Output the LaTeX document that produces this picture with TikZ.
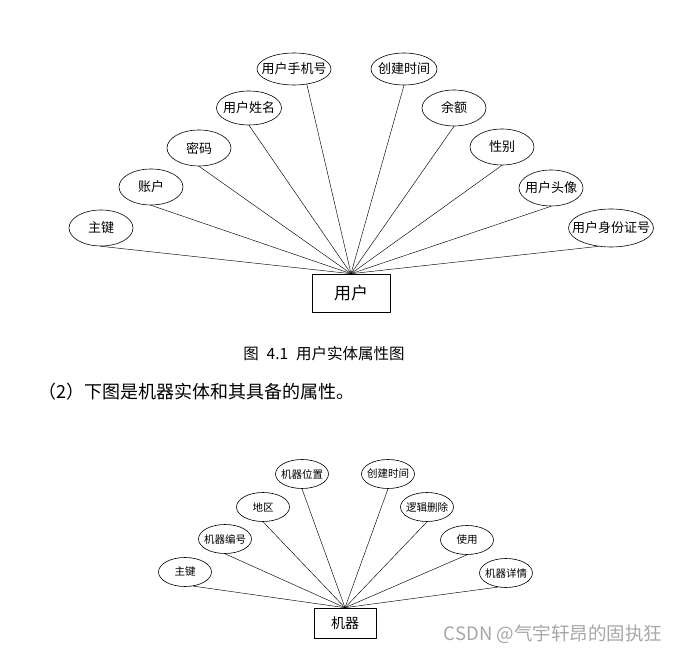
\documentclass[tikz,border=0pt]{standalone}
\usepackage{fontspec}
\setmainfont{Noto Sans CJK SC}
\usetikzlibrary{shapes.geometric}
\tikzset{
  attr/.style={draw, ellipse, line width=0.6pt, inner sep=0pt,
    minimum width=64pt, minimum height=36pt,
    font=\fontsize{13pt}{13pt}\selectfont, node contents={\makebox[0pt]{#1}}},
  smallattr/.style={attr=#1, minimum width=53pt, minimum height=29pt,
    font=\fontsize{10.5pt}{10.5pt}\selectfont},
  entity/.style={draw, rectangle, line width=0.6pt, inner sep=0pt},
  link/.style={line width=0.45pt},
}
\begin{document}
\begin{tikzpicture}[line cap=round,line join=round,x=1pt,y=-1pt]
  \useasboundingbox (0,0) rectangle (683,652);
  \node[entity, minimum width=78pt, minimum height=38pt,
    font=\fontsize{17pt}{17pt}\selectfont] (yh) at (351,293) {用户};
  \node (zj) at (101,228) [attr=主键];
  \node (zh) at (151,187) [attr=账户];
  \node (mm) at (199,148) [attr=密码];
  \node (xm) at (249,108) [attr=用户姓名, minimum width=65pt, minimum height=34pt];
  \node (sj) at (294,69) [attr=用户手机号, minimum width=74pt, minimum height=32pt];
  \node (cj) at (404,69) [attr=创建时间, minimum width=66pt, minimum height=32pt];
  \node (ye) at (454,108) [attr=余额];
  \node (xb) at (502,147) [attr=性别];
  \node (tx) at (551,188) [attr=用户头像];
  \node (sfz) at (611,228) [attr=用户身份证号, minimum width=85pt, minimum height=38pt];
  \foreach \a in {zj.south,zh.south,mm.south,xm.south,sj.-50,cj.south,ye.south,xb.south,tx.south,sfz.-125}
    \draw[link] (\a) -- (yh.north);
  \node[inner sep=0pt, font=\fontsize{15.5pt}{15.5pt}\selectfont] (cap) at (324,354) {图\hspace{0.5em}4.1\hspace{0.5em}用户实体属性图};
  \node[anchor=west, inner sep=0pt, font=\fontsize{18pt}{18pt}\selectfont] (txt) at (38,392) {（2）下图是机器实体和其具备的属性。};
  \node[entity, minimum width=62pt, minimum height=30pt,
    font=\fontsize{14pt}{14pt}\selectfont] (jq) at (345,623) {机器};
  \node (zj2) at (185,572) [smallattr=主键];
  \node (bh) at (225,539) [smallattr=机器编号];
  \node (dq) at (263,507) [smallattr=地区];
  \node (wz) at (302,474) [smallattr=机器位置];
  \node (cj2) at (388,474) [smallattr=创建时间];
  \node (sc) at (427,507) [smallattr=逻辑删除];
  \node (sy) at (467,540) [smallattr=使用];
  \node (xq) at (506,573) [smallattr=机器详情];
  \foreach \a in {zj2.-60,bh.south,dq.south,wz.south,cj2.south,sc.south,sy.south,xq.-120}
    \draw[link] (\a) -- (jq.north);
  \node[text=gray!70, inner sep=0pt, font=\fontsize{18.5pt}{18.5pt}\selectfont] (wm) at (553,634) {CSDN @气宇轩昂的固执狂};
\end{tikzpicture}
\end{document}
